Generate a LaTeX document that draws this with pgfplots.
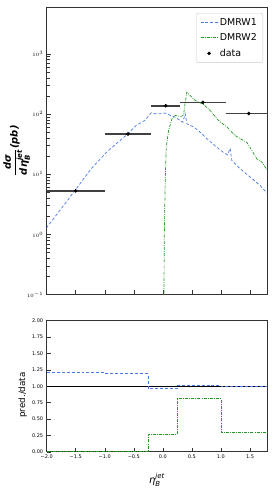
\documentclass[border=0pt]{standalone}
\usepackage{fontspec}
\setmainfont{DejaVu Sans}
\usepackage{pgfplots}
\pgfplotsset{compat=1.18}
\definecolor{dmrwone}{HTML}{4A78E8}
\definecolor{dmrwtwo}{HTML}{229922}
\begin{document}
\begin{tikzpicture}
\path (0bp,0bp) rectangle (272bp,490bp);
\begin{axis}[
  scale only axis,
  width=221bp,
  xmin=-2.0, xmax=1.8,
  tick align=inside,
  xtick pos=left, ytick pos=left,
  axis line style={black!80, line width=0.8pt},
  every tick/.append style={black!80, line width=0.5pt},
  tick label style={font=\fontsize{5}{6}\selectfont},
  xtick={-2.0,-1.5,-1.0,-0.5,0.0,0.5,1.0,1.5},
  at={(46.3bp,195bp)}, anchor=south west,
  height=288bp,
  ymode=log, ymin=0.1, ymax=6000,
  ytick={0.1,1,10,100,1000},
  yticklabels={$10^{-1}$,$10^{0}$,$10^{1}$,$10^{2}$,$10^{3}$},
  xticklabel=\empty,
  ylabel={\fontsize{10}{12}\selectfont$\displaystyle\frac{\hbox{\bfseries\itshape dσ}}{\hbox{\bfseries\itshape dη}_{\hbox{\fontsize{7}{8}\selectfont\bfseries\itshape B}}^{\hbox{\fontsize{7}{8}\selectfont\bfseries\itshape jet}}}\hbox{\bfseries\itshape (pb)}$},
  ylabel style={at={(axis description cs:-0.136,0.5)}, anchor=center},
  legend style={at={(0.98,0.979)}, anchor=north east, draw=black!20, rounded corners=2pt,
    font=\fontsize{9.5}{11}\selectfont, row sep=3pt, inner xsep=4pt, inner ysep=3pt},
  legend cell align=left,
]
\addplot[dmrwone, densely dashed, line width=0.7pt] coordinates {
(-2.005,1.28) (-1.747,2.7) (-1.49,5.75) (-1.232,12.4) (-0.974,23) (-0.773,34)
(-0.601,47) (-0.458,65) (-0.314,78) (-0.2,105) (-0.131,101) (-0.045,101)
(0.041,104) (0.127,95) (0.213,89) (0.299,78) (0.345,73) (0.385,101) (0.413,69)
(0.528,61) (0.614,53) (0.757,39) (0.929,28) (1.044,23) (1.113,21) (1.158,27)
(1.187,17) (1.33,12.4) (1.502,9.0) (1.674,6.5) (1.8,4.8)
};
\addlegendentry{DMRW1}
\addplot[dmrwtwo, dash pattern=on 3pt off 1.2pt on 0.8pt off 1.2pt, line width=0.7pt] coordinates {
(0.015,0.01) (0.024,0.8) (0.041,7.9) (0.058,28) (0.098,53) (0.155,83) (0.213,95)
(0.299,91) (0.356,95) (0.373,130) (0.413,231) (0.471,203) (0.557,168) (0.700,144)
(0.814,115) (0.958,78) (1.101,61) (1.244,44) (1.33,39) (1.445,34) (1.531,25)
(1.617,18) (1.703,16) (1.789,11.9)
};
\addlegendentry{DMRW2}
\addplot[black!75, line width=1.4pt, forget plot] coordinates {(-2.0,5.3) (-1.0,5.3)};
\addplot[black!75, line width=1.4pt, forget plot] coordinates {(-1.0,46.5) (-0.2,46.5)};
\addplot[black!75, line width=1.4pt, forget plot] coordinates {(-0.2,137) (0.3,137)};
\addplot[black!75, line width=1.4pt, forget plot] coordinates {(0.3,156) (1.08,156)};
\addplot[black!75, line width=1.4pt, forget plot] coordinates {(1.08,102) (1.88,102)};
\addplot[black, only marks, mark=*, mark size=1.6pt]
  coordinates {
  (-1.5,5.3) (-0.6,46.5) (0.05,137) (0.69,156) (1.48,102)
};
\addlegendentry{data}
\end{axis}
\begin{axis}[
  scale only axis,
  width=221bp,
  xmin=-2.0, xmax=1.8,
  tick align=inside,
  xtick pos=left, ytick pos=left,
  axis line style={black!80, line width=0.8pt},
  every tick/.append style={black!80, line width=0.5pt},
  tick label style={font=\fontsize{5}{6}\selectfont},
  xtick={-2.0,-1.5,-1.0,-0.5,0.0,0.5,1.0,1.5},
  at={(46.3bp,37.7bp)}, anchor=south west,
  height=131.3bp,
  ymin=0, ymax=2,
  ytick={0,0.25,0.5,0.75,1,1.25,1.5,1.75,2},
  yticklabels={0.00,0.25,0.50,0.75,1.00,1.25,1.50,1.75,2.00},
  xticklabels={−2.0,−1.5,−1.0,−0.5,0.0,0.5,1.0,1.5},
  ylabel={\fontsize{8.8}{10}\selectfont pred./data},
  ylabel style={at={(axis description cs:-0.108,0.433)}, anchor=center},
  xlabel={\fontsize{10}{12}\selectfont$\hbox{\itshape η}_{\hbox{\fontsize{7}{8}\selectfont\itshape B}}^{\hbox{\fontsize{7}{8}\selectfont\itshape jet}}$},
  xlabel style={at={(axis description cs:0.5,-0.215)}, anchor=center},
]
\addplot[black, line width=0.8pt] coordinates {(-2,1) (1.8,1)};
\addplot[dmrwone, densely dashed, line width=0.8pt, const plot] coordinates {
(-2,1.203) (-1.0,1.188) (-0.25,0.962) (0.25,1.015) (1.0,0.995) (1.8,0.995)
};
\addplot[dmrwtwo, dash pattern=on 3pt off 1.2pt on 0.8pt off 1.2pt, line width=0.8pt, const plot] coordinates {
(-2,0.0) (-0.25,0.264) (0.25,0.807) (1.0,0.299) (1.8,0.299)
};
\end{axis}
\end{tikzpicture}
\end{document}
